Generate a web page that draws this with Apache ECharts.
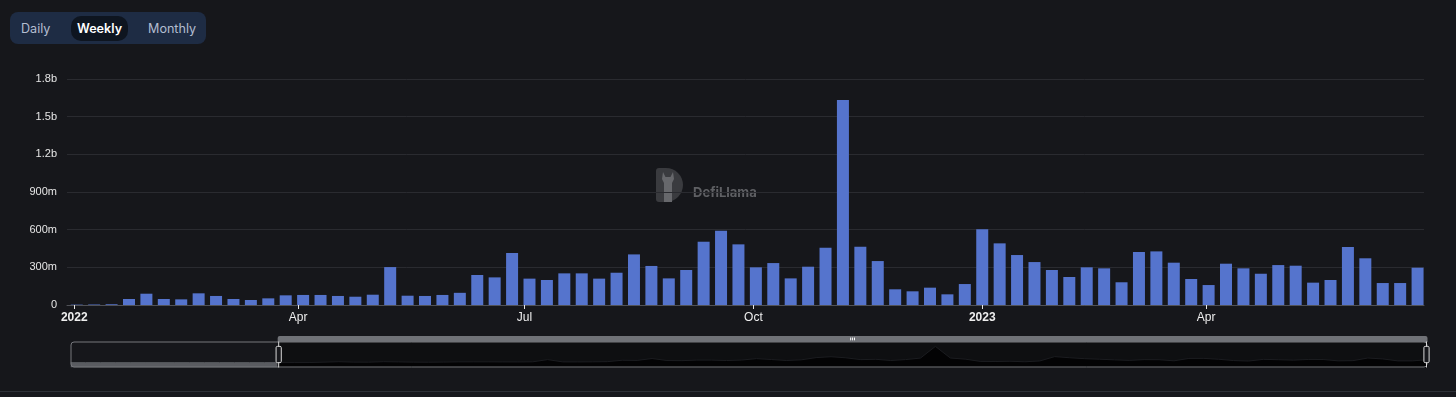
<!DOCTYPE html>
<html>
<head>
<meta charset="utf-8">
<script src="https://cdn.jsdelivr.net/npm/echarts@6/dist/echarts.min.js"></script>
<style>
  html, body { margin: 0; padding: 0; background: #16171b; }
  #wrap { position: relative; width: 1456px; height: 397px; overflow: hidden; background: #16171b; }
  #chart { position: absolute; left: 0; top: 0; width: 1456px; height: 397px; }
  .tabs { position: absolute; left: 10px; top: 12px; width: 196px; height: 32px; border-radius: 8px; background: #1e2c44; z-index: 2; font-family: Inter, "Noto Sans", sans-serif; font-size: 12.6px; }
  .tab { position: absolute; top: 4px; height: 25px; line-height: 25px; color: #b3bdd0; }
  .tab.active { background: #0e1520; color: #fff; font-weight: 600; border-radius: 10px; text-align: center; }
  .foot { position: absolute; left: 0; top: 391px; width: 1456px; height: 6px; background: #17181d; border-top: 1px solid #2d3037; z-index: 2; }
</style>
</head>
<body>
<div id="wrap">
  <div id="chart"></div>
  <div class="tabs">
    <div class="tab" style="left:11px">Daily</div>
    <div class="tab active" style="left:61px;width:57px">Weekly</div>
    <div class="tab" style="left:138px">Monthly</div>
  </div>
  <div class="foot"></div>
</div>
<script>
// weekly buckets (Sunday)
const weeks = [
  "2021-09-26", "2021-10-03", "2021-10-10", "2021-10-17", "2021-10-24", "2021-10-31", "2021-11-07",
  "2021-11-14", "2021-11-21", "2021-11-28", "2021-12-05", "2021-12-12", "2021-12-19", "2021-12-26",
  "2022-01-02", "2022-01-09", "2022-01-16", "2022-01-23", "2022-01-30", "2022-02-06", "2022-02-13",
  "2022-02-20", "2022-02-27", "2022-03-06", "2022-03-13", "2022-03-20", "2022-03-27", "2022-04-03",
  "2022-04-10", "2022-04-17", "2022-04-24", "2022-05-01", "2022-05-08", "2022-05-15", "2022-05-22",
  "2022-05-29", "2022-06-05", "2022-06-12", "2022-06-19", "2022-06-26", "2022-07-03", "2022-07-10",
  "2022-07-17", "2022-07-24", "2022-07-31", "2022-08-07", "2022-08-14", "2022-08-21", "2022-08-28",
  "2022-09-04", "2022-09-11", "2022-09-18", "2022-09-25", "2022-10-02", "2022-10-09", "2022-10-16",
  "2022-10-23", "2022-10-30", "2022-11-06", "2022-11-13", "2022-11-20", "2022-11-27", "2022-12-04",
  "2022-12-11", "2022-12-18", "2022-12-25", "2023-01-01", "2023-01-08", "2023-01-15", "2023-01-22",
  "2023-01-29", "2023-02-05", "2023-02-12", "2023-02-19", "2023-02-26", "2023-03-05", "2023-03-12",
  "2023-03-19", "2023-03-26", "2023-04-02", "2023-04-09", "2023-04-16", "2023-04-23", "2023-04-30",
  "2023-05-07", "2023-05-14", "2023-05-21", "2023-05-28", "2023-06-04", "2023-06-11", "2023-06-18",
  "2023-06-25"
];

// volume per week, in millions
const volumeM = [
  0, 0, 0, 0, 0, 0, 0,
  0, 0, 0, 0, 0, 0, 0,
  3, 4, 6, 48, 90, 48, 45,
  93, 72, 48, 40, 53, 77, 80,
  80, 72, 66, 82, 302, 74, 72,
  80, 97, 239, 220, 414, 210, 199,
  252, 252, 210, 257, 403, 311, 212,
  279, 504, 592, 483, 300, 334, 212,
  305, 456, 1633, 464, 350, 125, 109,
  138, 85, 167, 603, 491, 398, 342,
  279, 223, 300, 292, 181, 422, 427,
  337, 207, 159, 329, 292, 249, 318,
  313, 178, 199, 462, 372, 175, 175,
  297
];

const xTickDates = ["2022-01-01", "2022-04-01", "2022-07-01", "2022-10-01", "2023-01-01", "2023-04-01"];
const xTickLabels = ["2022", "Apr", "Jul", "Oct", "2023", "Apr"];
const yTickLabels = ["0", "300m", "600m", "900m", "1.2b", "1.5b", "1.8b"];

// visible window and full slider range
const xMin = "2021-09-21 19:00";
const windowStart = "2021-12-29 02:00";
const windowEnd = "2023-06-27 14:00";

const toTime = (s) => echarts.time.parse(s).getTime();

const chart = echarts.init(document.getElementById("chart"));

const tickTimes = xTickDates.map(toTime);
const seriesData = weeks.map((d, i) => [toTime(d), volumeM[i] * 1e6]);

const labelFont = '"Liberation Sans", Arial, Helvetica, sans-serif';

const option = {
  backgroundColor: "#16171b",
  animation: false,
  grid: { left: 67, right: 32, top: 79, bottom: 92 },
  graphic: [
    {
      type: "group",
      left: 656,
      top: 168,
      silent: true,
      children: [
        {
          type: "rect",
          shape: { x: 0, y: 0, width: 27, height: 34, r: [3, 17, 17, 3] },
          style: { fill: "#3a3b3f" },
        },
        {
          type: "polygon",
          shape: { points: [[7, 4], [9.5, 9], [14.5, 9], [17, 4], [18, 11], [16, 15], [16, 34], [8, 34], [8, 15], [6, 11]] },
          style: { fill: "#67686c" },
        },
        {
          type: "text",
          x: 37,
          y: 25,
          style: {
            text: "DefiLlama",
            fill: "#5f6064",
            font: "bold 13px Inter, 'Noto Sans', sans-serif",
            verticalAlign: "middle",
          },
        },
      ],
    },
  ],
  xAxis: {
    type: "value",
    min: toTime(xMin),
    max: toTime(windowEnd),
    splitLine: { show: false },
    axisLine: { lineStyle: { color: "#505257", width: 1 } },
    axisTick: {
      customValues: tickTimes,
      length: 4,
      lineStyle: { color: "#e6e6e6" },
    },
    axisLabel: {
      customValues: tickTimes,
      color: "#eeeeee",
      fontSize: 12,
      fontFamily: labelFont,
      margin: 7,
      formatter: (value) => {
        const txt = xTickLabels[tickTimes.indexOf(+value)] || "";
        return /^\d{4}$/.test(txt) ? "{yr|" + txt + "}" : txt;
      },
      rich: {
        yr: { fontWeight: "bold", color: "#eeeeee", fontSize: 12, fontFamily: labelFont },
      },
    },
  },
  yAxis: {
    type: "value",
    min: 0,
    max: 1.8e9,
    interval: 3e8,
    axisLine: { show: false },
    axisTick: { show: false },
    splitLine: { lineStyle: { color: "#2a2b30", width: 1 } },
    axisLabel: {
      color: "#e6e6e6",
      fontSize: 11,
      fontFamily: labelFont,
      margin: 10,
      formatter: (value, index) => yTickLabels[index],
    },
  },
  dataZoom: [
    {
      type: "slider",
      xAxisIndex: 0,
      startValue: toTime(windowStart),
      endValue: toTime(windowEnd),
      left: 68,
      right: 31,
      top: 336,
      height: 26,
      showDetail: false,
      brushSelect: true,
      borderColor: "#76787d",
      borderRadius: 3,
      backgroundColor: "rgba(0,0,0,0)",
      fillerColor: "rgba(0,0,0,0.35)",
      dataBackground: {
        lineStyle: { color: "#5a5c61", width: 1, opacity: 1 },
        areaStyle: { color: "#5a5c61", opacity: 1 },
      },
      selectedDataBackground: {
        lineStyle: { color: "#2a2c31", width: 1, opacity: 1 },
        areaStyle: { color: "#050507", opacity: 1 },
      },
      handleStyle: { color: "#17181c", borderColor: "#d8d8d8", borderWidth: 1 },
      moveHandleSize: 6,
      moveHandleStyle: { color: "#707277", opacity: 1 },
      emphasis: {
        handleStyle: { borderColor: "#ffffff" },
        moveHandleStyle: { color: "#808287", opacity: 1 },
      },
    },
  ],
  series: [
    {
      name: "Volume",
      type: "bar",
      barWidth: 12,
      itemStyle: { color: "#5574cd" },
      data: seriesData,
    },
  ],
};

chart.setOption(option);
window.addEventListener("resize", () => chart.resize());
</script>
</body>
</html>
